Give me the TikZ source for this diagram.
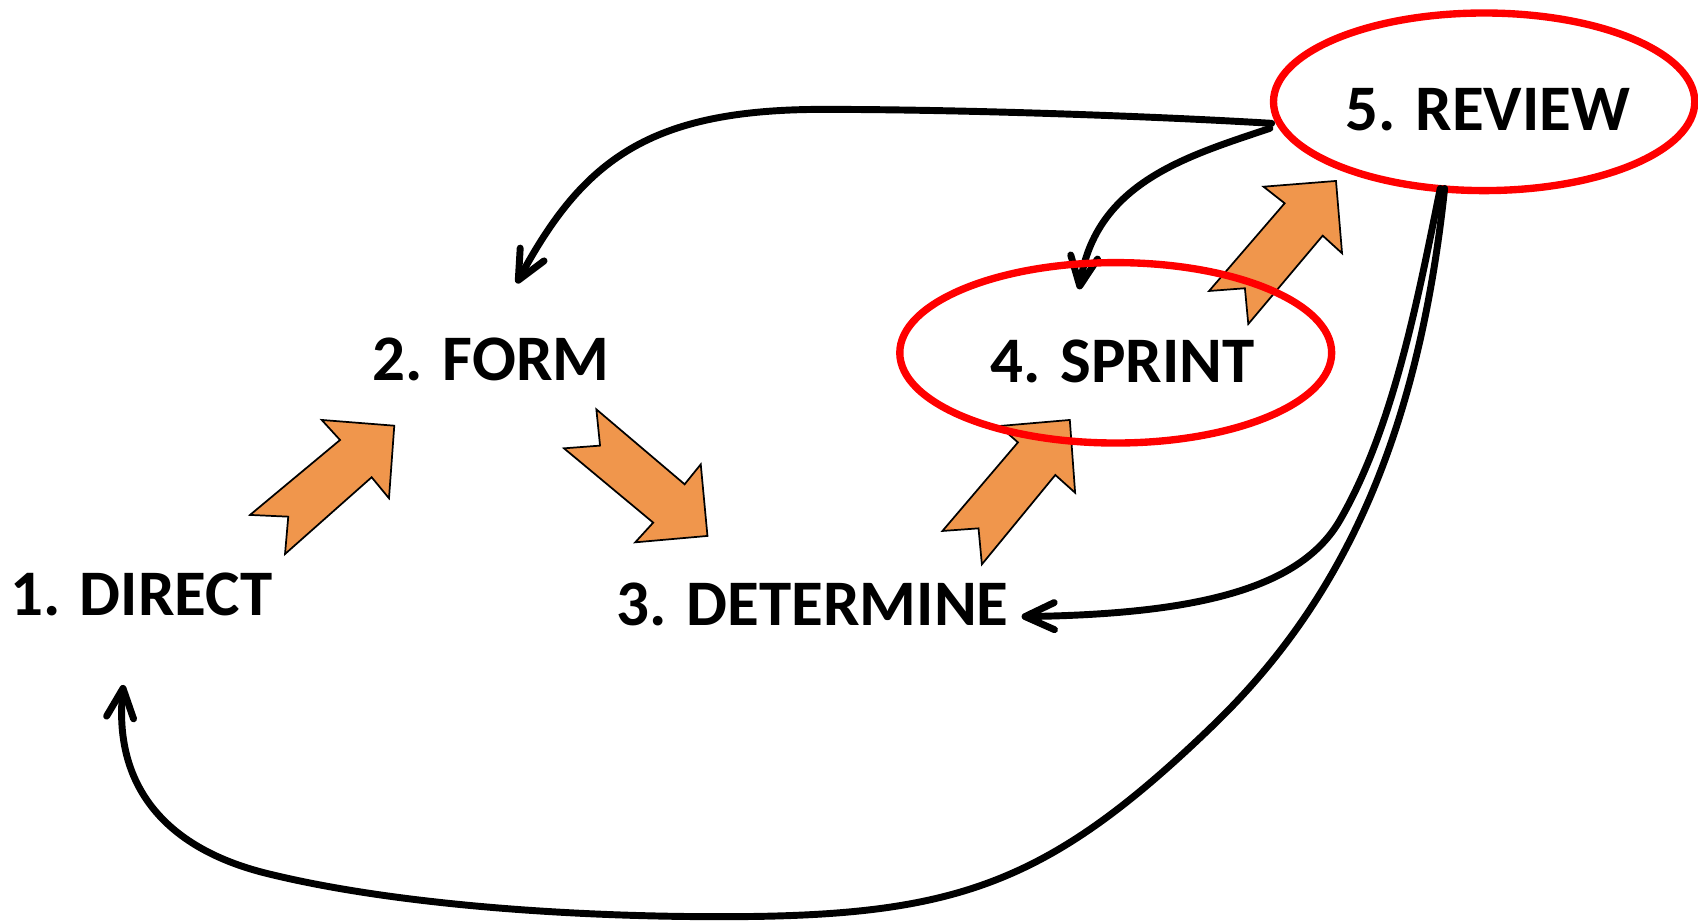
\documentclass[tikz,border=0pt]{standalone}
\usepackage{fontspec}
\setmainfont{Carlito}
\usetikzlibrary{shapes.geometric,arrows.meta}
\definecolor{orangefill}{HTML}{F0964C}
\definecolor{ringred}{HTML}{FF0000}
\begin{document}
\begin{tikzpicture}[x=0.5pt,y=-0.5pt,
  stagetext/.style={font=\fontsize{30}{36}\selectfont\bfseries, inner sep=0pt, outer sep=0pt},
  ring/.style={draw=ringred, line width=3.4pt, ellipse, inner sep=0pt, outer sep=0pt},
  blockarrow/.style={fill=orangefill, draw=black, line width=0.8pt, line join=miter},
  flow/.style={draw=black, line width=3.2pt, line cap=round,
    -{Straight Barb[length=13.5pt,width=12.5pt,line cap=round,line join=round]}},
]
\useasboundingbox (0,0) rectangle (1568,851.4);

% orange block arrows
\path[blockarrow] (230.9,475.5) -- (266.2,477.1) -- (263.2,511.6) -- (343.2,440.7) -- (359.2,460.1)
  -- (364.1,393.1) -- (297.1,387.8) -- (314,406.3) -- cycle;
\path[blockarrow] (550.7,378.0) -- (554.1,411.5) -- (520.8,414.0) -- (603.2,482.6) -- (586.6,500.8)
  -- (653.3,494.9) -- (647.1,428.8) -- (632.2,447.2) -- cycle;
\path[blockarrow] (870.3,490.3) -- (903.6,487.9) -- (906.7,521.1) -- (974.5,438.6) -- (992.8,455.0)
  -- (987.9,387.8) -- (922.8,393.4) -- (940.0,408.5) -- cycle;
\path[blockarrow] (1116.5,268.7) -- (1149.6,266.2) -- (1152.7,299.2) -- (1221.4,217.6) -- (1239.3,233.9)
  -- (1233.7,167.1) -- (1166.8,172.4) -- (1186.3,187.7) -- cycle;

% REVIEW ring
\node[ring, minimum width=194.5pt, minimum height=82pt] (e5) at (1370.5,94) {};

% texts
\node[stagetext] (n1) at (130.5,548.6) {1. DIRECT};
\node[stagetext] (n2) at (453.5,332) {2. FORM};
\node[stagetext] (n3) at (750.5,557.9) {3. DETERMINE};
\node[stagetext] (n4) at (1036.5,334) {4. SPRINT};
\node[stagetext] (n5) at (1374,100.8) {5. REVIEW};

% connector ends
\coordinate (s5a) at (1174.3,113.9);
\coordinate (s5b) at (1172.7,118.5);
\coordinate (s5c) at (1330,174);
\coordinate (s5d) at (1334,174);
\coordinate (t1) at (113.9,632.5);
\coordinate (t2) at (477.1,261.6);
\coordinate (t3) at (943.4,569.4);
\coordinate (t4) at (996.6,267.2);

% connectors
\draw[flow] (s5a) .. controls (1054.5,106.7) and (880,101) .. (760,101)
  .. controls (600,101) and (538.6,147.1) .. (t2);
\draw[flow] (s5b) .. controls (1096.9,144.1) and (1011.6,168.2) .. (t4);
\draw[flow] (s5c) .. controls (1310,272) and (1287.4,393.6) .. (1237.4,480.2)
  .. controls (1202.4,540.8) and (1113.4,567) .. (t3);
\draw[flow] (s5d) .. controls (1307.8,422.5) and (1227.9,565.8) .. (1120,670)
  .. controls (965.4,819.4) and (880,846.5) .. (665,846.5)
  .. controls (525,846.5) and (362.6,835.3) .. (246.2,806.5)
  .. controls (149.2,782.5) and (104.9,722.5) .. (t1);

% SPRINT ring (over the connectors)
\node[ring, minimum width=199.4pt, minimum height=83.3pt] (e4) at (1030.3,325.8) {};
\end{tikzpicture}
\end{document}
